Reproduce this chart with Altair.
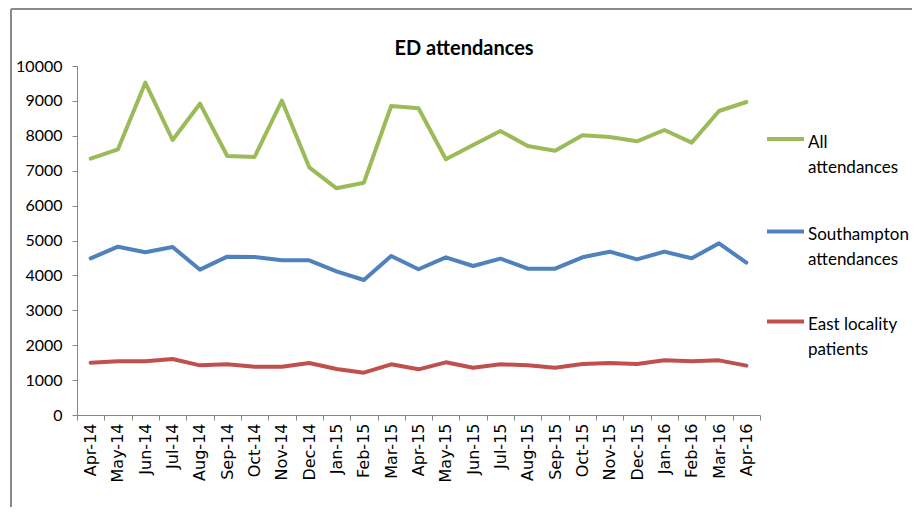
import altair as alt
import pandas as pd

months = ["Apr-14", "May-14", "Jun-14", "Jul-14", "Aug-14", "Sep-14", "Oct-14", "Nov-14",
          "Dec-14", "Jan-15", "Feb-15", "Mar-15", "Apr-15", "May-15", "Jun-15", "Jul-15",
          "Aug-15", "Sep-15", "Oct-15", "Nov-15", "Dec-15", "Jan-16", "Feb-16", "Mar-16", "Apr-16"]

all_attendances = [7344, 7612, 9522, 7880, 8920, 7421, 7393, 9006, 7096, 6495, 6657, 8854,
                   8788, 7327, 7736, 8138, 7708, 7574, 8013, 7966, 7842, 8166, 7803, 8711, 8968]
southampton = [4489, 4823, 4661, 4813, 4164, 4537, 4527, 4431, 4431, 4117, 3868, 4556,
               4175, 4518, 4269, 4479, 4193, 4193, 4518, 4680, 4460, 4680, 4490, 4919, 4365]
east_locality = [1500, 1538, 1538, 1605, 1423, 1452, 1385, 1385, 1490, 1318, 1213, 1452,
                 1309, 1509, 1356, 1452, 1423, 1356, 1461, 1490, 1461, 1566, 1538, 1566, 1414]

title_text = "ED attendances"
series_names = ["All attendances", "Southampton attendances", "East locality patients"]
legend_lines = [["All", "attendances"], ["Southampton", "attendances"], ["East locality", "patients"]]
colors = ["#9BBB59", "#4F81BD", "#C0504D"]
y_ticks = list(range(0, 10001, 1000))

rows = []
for name, vals in zip(series_names, [all_attendances, southampton, east_locality]):
    for m, v in zip(months, vals):
        rows.append({"month": m, "value": v, "series": name})
df = pd.DataFrame(rows)

W, H = 683, 349
PAD = {"left": 69, "top": 58, "right": 152, "bottom": 92}

x = alt.X("month:N", sort=months, bandPosition=0.5,
          scale=alt.Scale(type="band", paddingInner=0, paddingOuter=0),
          axis=alt.Axis(title=None, labelAngle=-90, tickBand="extent", tickSize=5,
                        labelPadding=3, labelFont="DejaVu Sans", labelFontSize=16,
                        labelColor="#000000", domainColor="#868686", tickColor="#868686"))
y = alt.Y("value:Q", scale=alt.Scale(domain=[0, 10000], nice=False),
          axis=alt.Axis(title=None, values=y_ticks, format="d", tickSize=5, labelPadding=10,
                        labelFont="Lato", labelFontSize=16, labelColor="#000000",
                        domainColor="#868686", tickColor="#868686", grid=False))

lines = alt.Chart(df).mark_line(strokeWidth=4, strokeJoin="round", strokeCap="round").encode(
    x=x, y=y,
    color=alt.Color("series:N", scale=alt.Scale(domain=series_names, range=colors), legend=None),
)

one = pd.DataFrame({"k": [0]})
legend_y = [73, 165.5, 255.5]
layers = [lines]
for lines_txt, col, ly in zip(legend_lines, colors, legend_y):
    layers.append(alt.Chart(one).mark_rule(color=col, strokeWidth=4).encode(
        x=alt.value(690), x2=alt.value(727), y=alt.value(ly)))
    layers.append(alt.Chart(one).mark_text(align="left", baseline="alphabetic", font="Lato",
                                           fontSize=17, lineHeight=25, color="#000000").encode(
        x=alt.value(731), y=alt.value(ly + 8.5), text=alt.value(lines_txt)))

# chart title
layers.append(alt.Chart(one).mark_text(align="center", baseline="alphabetic", font="Lato",
                                       fontSize=20, fontWeight="bold", color="#000000").encode(
    x=alt.value(387), y=alt.value(-11), text=alt.value(title_text)))

# outer chart border
layers.append(alt.Chart(one).mark_rule(color="#8a8a8a", strokeWidth=2).encode(
    x=alt.value(-66), x2=alt.value(W + PAD["right"]), y=alt.value(-57)))
layers.append(alt.Chart(one).mark_rule(color="#8a8a8a", strokeWidth=2).encode(
    x=alt.value(-66), y=alt.value(-57), y2=alt.value(H + PAD["bottom"])))

chart = alt.layer(*layers).properties(
    width=W, height=H,
    autosize=alt.AutoSizeParams(type="none"),
    padding=PAD,
).configure(background="white").configure_view(strokeWidth=0, strokeOpacity=0)

chart.save("out.html", embed_options={"renderer": "svg", "actions": False})
